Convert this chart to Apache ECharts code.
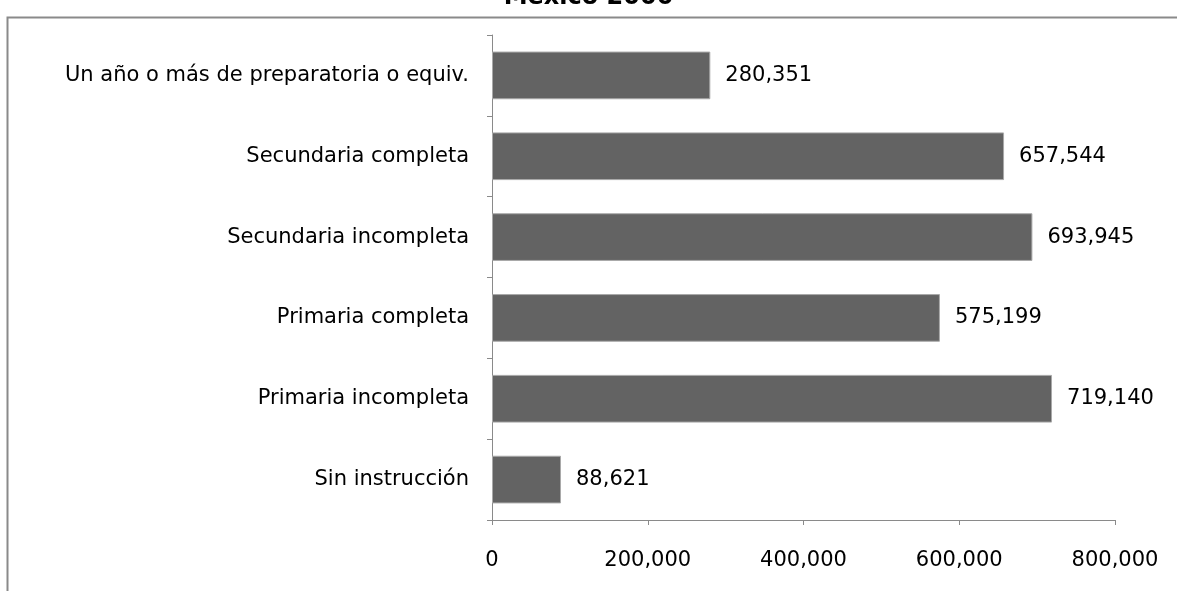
<!DOCTYPE html>
<html>
<head>
<meta charset="utf-8">
<script src="https://cdn.jsdelivr.net/npm/echarts@6/dist/echarts.min.js"></script>
<style>
  html, body { margin: 0; padding: 0; background: #fff; }
  #chart { width: 1177px; height: 591px; }
</style>
</head>
<body>
<div id="chart"></div>
<script>
// categorias de abajo hacia arriba
const categories = [
  'Sin instrucción',
  'Primaria incompleta',
  'Primaria completa',
  'Secundaria incompleta',
  'Secundaria completa',
  'Un año o más de preparatoria o equiv.'
];
const values = [88621, 719140, 575199, 693945, 657544, 280351];
const xTicks = [0, 200000, 400000, 600000, 800000];

const fontFam = '"DejaVu Sans", sans-serif';
const fmt = v => v.toLocaleString('en-US');

const chart = echarts.init(document.getElementById('chart'));

chart.setOption({
  animation: false,
  title: {
    text: 'México 2000',
    left: 'center',
    top: -19,
    textStyle: { fontFamily: fontFam, fontSize: 24, fontWeight: 'bold', color: '#000' }
  },
  graphic: [{
    type: 'polyline',
    shape: { points: [[7.5, 600], [7.5, 17.5], [1190, 17.5]] },
    style: { stroke: '#8a8a8a', lineWidth: 2, fill: null }
  }],
  grid: { left: 492, right: 62, top: 35, bottom: 71 },
  xAxis: {
    type: 'value',
    min: xTicks[0],
    max: xTicks[xTicks.length - 1],
    interval: 200000,
    splitLine: { show: false },
    axisLine: { show: true, lineStyle: { color: '#8a8a8a', width: 1 } },
    axisTick: { show: true, length: 5, lineStyle: { color: '#8a8a8a' } },
    axisLabel: {
      margin: 30,
      fontFamily: fontFam, fontSize: 21, color: '#000',
      formatter: v => fmt(v)
    }
  },
  yAxis: {
    type: 'category',
    data: categories,
    axisLine: { show: true, lineStyle: { color: '#8a8a8a', width: 1 } },
    axisTick: { show: true, length: 5, lineStyle: { color: '#8a8a8a' } },
    axisLabel: { margin: 23, fontFamily: fontFam, fontSize: 21, color: '#000' }
  },
  series: [{
    type: 'bar',
    data: values,
    barWidth: '59%',
    itemStyle: { color: '#636363', borderColor: '#a9a9a9', borderWidth: 1 },
    label: {
      show: true,
      position: 'right',
      distance: 15,
      fontFamily: fontFam, fontSize: 21, color: '#000',
      formatter: p => fmt(p.value)
    }
  }]
});
</script>
</body>
</html>
